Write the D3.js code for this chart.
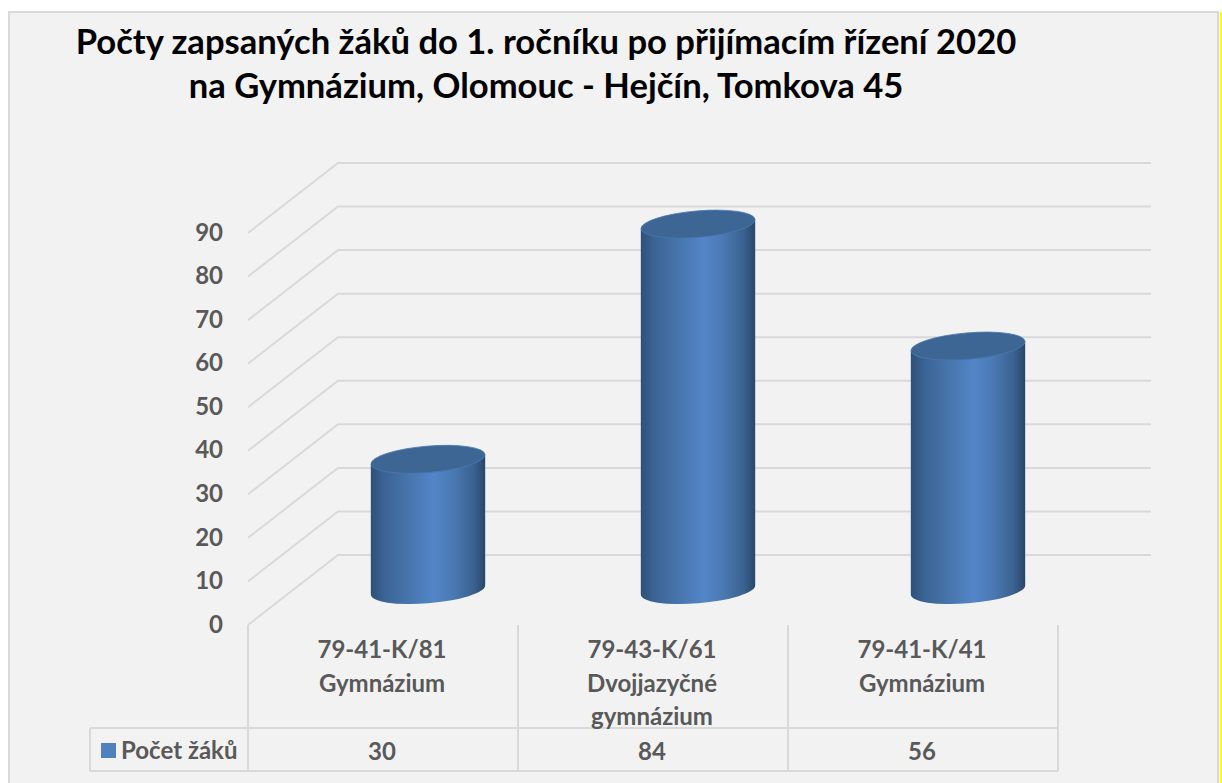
<!DOCTYPE html>
<html lang="cs"><head><meta charset="utf-8">
<script src="https://cdn.jsdelivr.net/npm/d3@7"></script>
<style>html,body{margin:0;padding:0;background:#fff}svg{display:block}text{font-family:Lato,"Open Sans",sans-serif;font-weight:700}</style>
</head><body><svg id="c" width="1222" height="783"></svg>
<script>
const titleLines = ["Počty zapsaných žáků do 1. ročníku po přijímacím řízení 2020", "na Gymnázium, Olomouc - Hejčín, Tomkova 45"];
const categories = ["79-41-K/81", "79-43-K/61", "79-41-K/41"];
const categoryLabels = [["79-41-K/81", "Gymnázium"], ["79-43-K/61", "Dvojjazyčné", "gymnázium"], ["79-41-K/41", "Gymnázium"]];
const values = [30, 84, 56];
const yTicks = [0, 10, 20, 30, 40, 50, 60, 70, 80, 90];
const seriesName = "Počet žáků";

const svg = d3.select("#c");
const grid = "#d9d9d9", label = "#595959", depthX = 90, depthY = 70;
svg.append("rect").attr("x", 9).attr("y", 12).attr("width", 1209).attr("height", 790).attr("fill", "#f2f2f2").attr("stroke", grid).attr("stroke-width", 2);
svg.append("rect").attr("x", 1220).attr("y", 12).attr("width", 2).attr("height", 771).attr("fill", "#ffff00");

svg.append("g").selectAll("text").data(titleLines).join("text")
  .attr("x", 546).attr("y", (d, i) => 54 + i * 44)
  .attr("text-anchor", "middle").attr("font-size", 34.6).attr("fill", "#000").text(d => d);

const y = d3.scaleLinear().domain([0, 90]).range([625, 233]);
const x = d3.scaleBand().domain(categories).range([248, 1058]);

// walls
const g = svg.append("g").attr("fill", "none").attr("stroke", grid).attr("stroke-width", 2);
g.selectAll("path").data(yTicks).join("path")
  .attr("d", v => { const p = d3.path(); p.moveTo(x.range()[0], y(v)); p.lineTo(x.range()[0] + depthX, y(v) - depthY); p.lineTo(1151, y(v) - depthY); return p; });

svg.append("g").attr("transform", "translate(223,0)")
  .call(d3.axisLeft(y).tickValues(yTicks).tickSize(0).tickPadding(0))
  .call(s => s.select(".domain").remove())
  .call(s => s.selectAll("text").attr("font-size", 24).attr("fill", label).style("font-family", "Lato").attr("dy", "0.3em"));

// cylinders
const defs = svg.append("defs");
const grad = defs.append("linearGradient").attr("id", "cyl");
[[0, "#2f5078"], [0.12, "#3b6496"], [0.35, "#4876ae"], [0.55, "#5385c8"], [0.72, "#4a79b2"], [0.9, "#3a6190"], [1, "#2a466c"]]
  .forEach(([o, c]) => grad.append("stop").attr("offset", o).attr("stop-color", c));

const a = x.bandwidth() * 0.2119, b = a * 0.231, tilt = -4.8;
const tx = a * 0.9995, ty = a * 0.08;
const bars = svg.append("g").selectAll("g").data(values).join("g")
  .attr("transform", (d, i) => `translate(${x(categories[i]) + x.bandwidth() / 2 + depthX / 2},${y(0) - depthY / 2})`);
bars.append("path").attr("fill", "url(#cyl)")
  .attr("d", d => { const t = y(d) - y(0);
    return `M${-tx},${t + ty}L${-tx},${ty}A${a},${b},${tilt},0,0,${tx},${-ty}L${tx},${t - ty}Z`; });
bars.append("ellipse").attr("rx", a).attr("ry", b).attr("fill", "#3d6695").attr("stroke", "#4a78ae").attr("stroke-width", 0.8)
  .attr("transform", d => `translate(0,${y(d) - y(0)}) rotate(${tilt})`);

// data table
const tTop = 728, tBot = 771, tLeft = 90;
const tg = svg.append("g").attr("stroke", grid).attr("stroke-width", 2);
[tTop, tBot].forEach(v => tg.append("line").attr("x1", tLeft).attr("x2", x.range()[1]).attr("y1", v).attr("y2", v));
tg.append("line").attr("x1", tLeft).attr("x2", tLeft).attr("y1", tTop).attr("y2", tBot);
[...categories.map(c => x(c)), x.range()[1]].forEach(v => tg.append("line").attr("x1", v).attr("x2", v).attr("y1", y(0)).attr("y2", tBot));

svg.append("rect").attr("x", 101).attr("y", 743).attr("width", 15).attr("height", 15).attr("fill", "#4f81bd");
svg.append("text").attr("x", 121).attr("y", 759).attr("font-size", 24).attr("fill", label).text(seriesName);

const lab = svg.append("g").attr("text-anchor", "middle").attr("font-size", 24).attr("fill", label);
categoryLabels.forEach((ls, i) => ls.forEach((l, j) => lab.append("text")
  .attr("x", x(categories[i]) + x.bandwidth() / 2 - 1).attr("y", 658 + j * 33.5).text(l)));
lab.selectAll(".v").data(values).join("text").attr("class", "v")
  .attr("x", (d, i) => x(categories[i]) + x.bandwidth() / 2 - 1).attr("y", 760).text(d => d);
</script></body></html>
